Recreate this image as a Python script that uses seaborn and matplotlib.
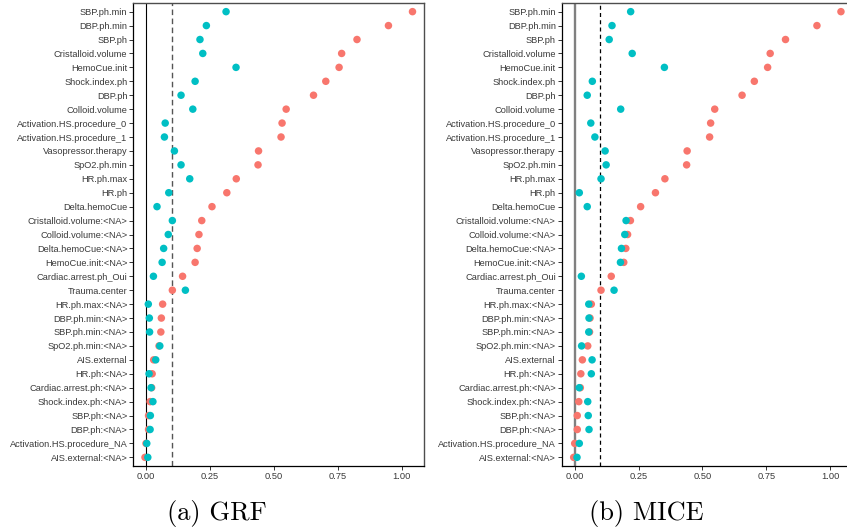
import matplotlib
matplotlib.use("Agg")
import matplotlib.pyplot as plt
import numpy as np
import pandas as pd
import seaborn as sns

# Variable names, top to bottom
variables = [
    "SBP.ph.min", "DBP.ph.min", "SBP.ph", "Cristalloid.volume", "HemoCue.init",
    "Shock.index.ph", "DBP.ph", "Colloid.volume", "Activation.HS.procedure_0",
    "Activation.HS.procedure_1", "Vasopressor.therapy", "SpO2.ph.min", "HR.ph.max",
    "HR.ph", "Delta.hemoCue", "Cristalloid.volume:<NA>", "Colloid.volume:<NA>",
    "Delta.hemoCue:<NA>", "HemoCue.init:<NA>", "Cardiac.arrest.ph_Oui",
    "Trauma.center", "HR.ph.max:<NA>", "DBP.ph.min:<NA>", "SBP.ph.min:<NA>",
    "SpO2.ph.min:<NA>", "AIS.external", "HR.ph:<NA>", "Cardiac.arrest.ph:<NA>",
    "Shock.index.ph:<NA>", "SBP.ph:<NA>", "DBP.ph:<NA>",
    "Activation.HS.procedure_NA", "AIS.external:<NA>",
]

# Reference importance (red), shared by both panels
importance_ref = [
    1.042, 0.948, 0.825, 0.765, 0.755, 0.703, 0.655, 0.548, 0.532, 0.528,
    0.440, 0.438, 0.353, 0.316, 0.258, 0.218, 0.207, 0.200, 0.192, 0.143,
    0.103, 0.065, 0.060, 0.058, 0.051, 0.030, 0.024, 0.022, 0.016, 0.010,
    0.010, 0.000, -0.004,
]

# Importance after GRF (teal, left panel)
importance_grf = [
    0.313, 0.236, 0.211, 0.222, 0.352, 0.192, 0.137, 0.183, 0.075, 0.072,
    0.111, 0.137, 0.171, 0.089, 0.043, 0.103, 0.087, 0.069, 0.063, 0.029,
    0.154, 0.009, 0.013, 0.014, 0.054, 0.038, 0.012, 0.020, 0.027, 0.017,
    0.016, 0.003, 0.007,
]

# Importance after MICE (teal, right panel)
importance_mice = [
    0.219, 0.146, 0.135, 0.225, 0.351, 0.069, 0.049, 0.180, 0.063, 0.079,
    0.119, 0.123, 0.103, 0.018, 0.049, 0.201, 0.196, 0.183, 0.179, 0.026,
    0.154, 0.055, 0.056, 0.055, 0.027, 0.068, 0.065, 0.018, 0.051, 0.053,
    0.056, 0.018, 0.009,
]

x_ticks = [0.0, 0.25, 0.5, 0.75, 1.0]
x_ticklabels = ["0.00", "0.25", "0.50", "0.75", "1.00"]
threshold = 0.1
captions = ["(a) GRF", "(b) MICE"]

RED = "#F8766D"
TEAL = "#00BFC4"
TEXT = "#3a3a3a"


def long_frame(teal_values):
    return pd.DataFrame({
        "variable": variables * 2,
        "importance": list(importance_ref) + list(teal_values),
        "series": ["ref"] * len(variables) + ["imp"] * len(variables),
    })


sns.set_style("white")
plt.rcParams["font.family"] = ["Liberation Sans", "DejaVu Sans"]

W, H = 847, 531
fig = plt.figure(figsize=(W / 100, H / 100), dpi=100)

# axes boxes in pixels: left, right, top, bottom
boxes = [(133.3, 424.0, 3.3, 465.7), (561.7, 854.5, 3.3, 465.7)]
xlims = [(-0.0497, 1.087), (-0.0509, 1.095)]
teals = [importance_grf, importance_mice]
zero_styles = [dict(color="black", lw=0.8), dict(color="#808080", lw=1.7)]
dash_styles = [dict(color="#555555", lw=1.0, dashes=(4, 2.5)),
               dict(color="black", lw=0.9, dashes=(3.2, 2.6))]
caption_x = [216.7, 646.3]

for i in range(2):
    l, r, t, b = boxes[i]
    ax = fig.add_axes([l / W, 1 - b / H, (r - l) / W, (b - t) / H])
    ax.axvline(0, zorder=1, **zero_styles[i])
    ax.axvline(threshold, zorder=1, linestyle="--", **dash_styles[i])
    sns.stripplot(
        data=long_frame(teals[i]), x="importance", y="variable", hue="series",
        order=variables, hue_order=["ref", "imp"], palette=[RED, TEAL],
        jitter=False, dodge=False, size=5.4, linewidth=0, legend=False,
        ax=ax, zorder=3,
    )
    ax.set_xlim(*xlims[i])
    ax.set_ylim(len(variables) - 1 + 0.6, -0.6)
    ax.set_xticks(x_ticks)
    ax.set_xticklabels(x_ticklabels)
    ax.set_xlabel("")
    ax.set_ylabel("")
    ax.tick_params(axis="both", which="both", direction="out", length=2.6,
                   width=0.7, color="#333333", labelsize=6.7, labelcolor=TEXT,
                   pad=1.6, left=True, bottom=True)
    for side in ["left", "bottom"]:
        ax.spines[side].set_color("black")
        ax.spines[side].set_linewidth(0.9)
    for side in ["top", "right"]:
        ax.spines[side].set_color("#4d4d4d")
        ax.spines[side].set_linewidth(1.0)
        ax.spines[side].set_visible(True)
    ax.grid(False)
    fig.text(caption_x[i] / W, 1 - 520 / H, captions[i], ha="center",
             va="baseline", fontsize=19, family="cmr10", color="black")

fig.savefig("out.png", dpi=100)
